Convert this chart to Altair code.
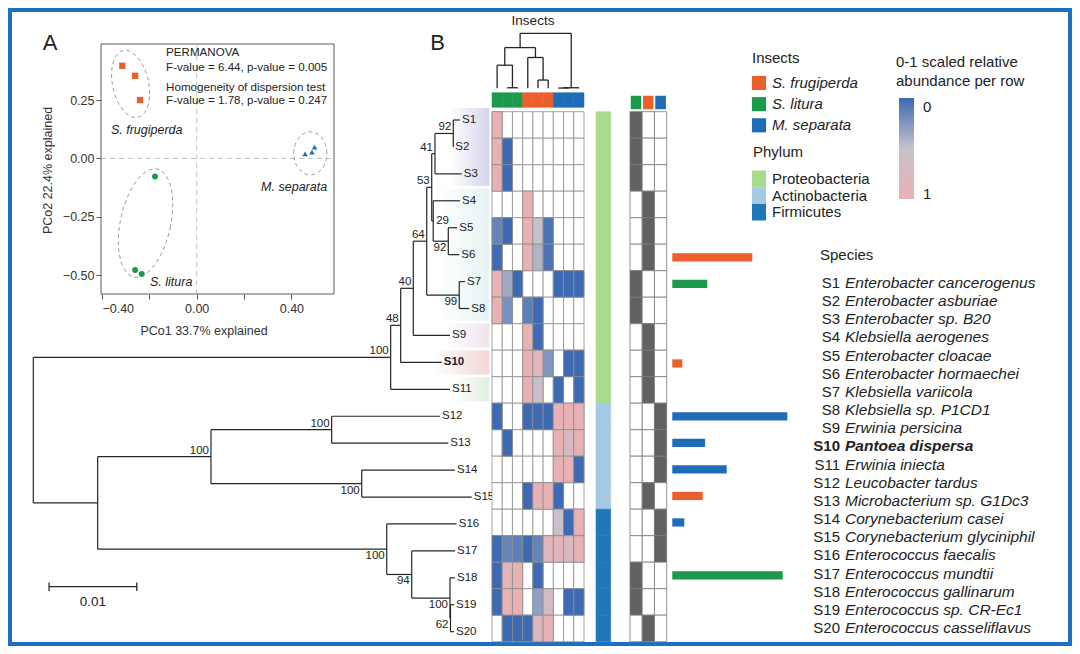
import altair as alt
import numpy as np
import pandas as pd

OFF = 8            # page margin
W, H = 1064, 638   # whole canvas (plot area, autosize none, padding 0)


def P(v):
    return v - OFF


def lin(domain, r0, r1):
    return alt.Scale(domain=domain, range=[P(r0), P(r1)], nice=False, zero=False)


def band(domain, r0, r1, pi=0.0, po=0.0):
    return alt.Scale(domain=domain, range=[P(r0), P(r1)], paddingInner=pi, paddingOuter=po)


FONT = "Liberation Sans"
INK = "#222222"
ORANGE, GREEN, BLUE = "#EB5F2C", "#1C9A4C", "#1F6DB6"
FRAME_BLUE = "#1D6FC2"

insects = ["S. frugiperda", "S. litura", "M. separata"]
insect_colors = [ORANGE, GREEN, BLUE]
INS_SCALE = alt.Scale(domain=insects, range=insect_colors)

# ---------------- Panel A : PCoA ----------------
pc_insect = ["S. frugiperda"] * 3 + ["S. litura"] * 3 + ["M. separata"] * 3
pc1 = [-0.314, -0.260, -0.239, -0.176, -0.260, -0.232, 0.458, 0.487, 0.498]
pc2 = [0.397, 0.354, 0.250, -0.077, -0.477, -0.494, 0.020, 0.027, 0.049]
pc_shapes = ["square", "circle", "triangle-up"]
pc_sizes = [40, 30, 70]

ell_insect = ["S. frugiperda", "S. litura", "M. separata"]
ell_cx = [-0.279, -0.216, 0.480]
ell_cy = [0.319, -0.276, 0.022]
ell_a = [0.076, 0.106, 0.070]
ell_b = [0.146, 0.236, 0.092]
ell_rot = [12.0, -12.0, 0.0]

PCX = [-0.404, 0.58]
PCY = [-0.58, 0.49]

stat_lines = ["PERMANOVA", "F-value = 6.44, p-value = 0.005",
              "Homogeneity of dispersion test", "F-value = 1.78, p-value = 0.247"]
stat_x = [-0.129, -0.129, -0.129, -0.129]
stat_y = [0.452, 0.388, 0.300, 0.246]

grp_label = ["S. frugiperda", "S. litura", "M. separata"]
grp_x = [-0.362, -0.197, 0.551]
grp_y = [0.121, -0.527, -0.124]

# ---------------- Panel B : tree ----------------
leaves = [f"S{i}" for i in range(1, 21)]
leaf_depth = [0.04865, 0.04789, 0.04885, 0.04865, 0.04835, 0.04857, 0.04922, 0.04972,
              0.04751, 0.04657, 0.04751, 0.04637, 0.04732, 0.04808, 0.04999, 0.04828,
              0.04808, 0.04808, 0.04797, 0.04797]
node_name = ["N92a", "N41", "N92b", "N29", "N53", "N99", "N64", "N40", "N48", "N100a",
             "N100d", "N100e", "N100c", "N62", "N100g", "N94", "N100f", "N100b", "root"]
node_c1 = ["S1", "N92a", "S5", "S4", "N41", "S7", "N53", "N64", "N40", "N48",
           "S12", "S14", "N100d", "S19", "S18", "S17", "S16", "N100c", "N100a"]
node_c2 = ["S2", "S3", "S6", "N92b", "N29", "S8", "N99", "S9", "S10", "S11",
           "S13", "S15", "N100e", "S20", "N62", "N100g", "N94", "N100f", "N100b"]
node_depth = [0.04789, 0.04580, 0.04732, 0.04560, 0.04543, 0.04857, 0.04486, 0.04333,
              0.04189, 0.04075, 0.03402, 0.03745, 0.02026, 0.04757, 0.04751, 0.04315,
              0.04030, 0.00734, 0.0]
node_support = ["92", "41", "92", "29", "53", "99", "64", "40", "48", "100",
                "100", "100", "100", "62", "100", "94", "100", "", ""]
node_side = ["above", "above", "below", "right", "above", "below", "above", "above", "above", "above",
             "above", "below", "above", "below", "below", "below", "below", "", ""]

hl_first = ["S1", "S4", "S9", "S10", "S11"]
hl_last = ["S3", "S8", "S9", "S10", "S11"]
hl_color = ["#d4d4eb", "#e6f3f3", "#efe4ee", "#f4d6d6", "#e0efe0"]
hl_start = [0.0475, 0.0462, 0.0470, 0.0455, 0.0478]

# column dendrogram (insect samples)
col_names = ["SL1", "SL2", "SL3", "SF1", "SF2", "SF3", "MS1", "MS2", "MS3"]
col_insect = ["S. litura"] * 3 + ["S. frugiperda"] * 3 + ["M. separata"] * 3
cnode_name = ["n1", "n2", "n3", "n4", "n5", "n6a", "n6", "top"]
cnode_c1 = ["SL2", "SL1", "SF2", "SF1", "n2", "MS1", "n6a", "n5"]
cnode_c2 = ["SL3", "n1", "SF3", "n3", "n4", "MS2", "MS3", "n6"]
cnode_h = [0.01, 0.42, 0.15, 0.56, 0.74, 0.005, 0.01, 1.0]

# heatmap values (0-1 scaled per row, None = absent), one list per sample column, rows S1..S20
N = None
SL1 = [1, 1, 1, N, 0.15, 0, 1, 1, N, N, N, 0, N, N, N, N, 0, 0, 0, N]
SL2 = [N, 0, 0, N, 0, N, 0.35, 0.22, N, N, N, N, 0, N, N, N, 0.15, 0.88, 1, 0]
SL3 = [N, N, N, N, N, N, 0, N, N, N, N, N, N, N, N, N, 0.12, 0.95, 1, 0]
SF1 = [N, N, N, 1, 1, 1, N, 0.12, 1, 1, 1, 0, N, N, 0, N, 0, N, N, 0]
SF2 = [N, N, N, N, 0.5, 0.42, N, 0, 0, 0.9, 0.58, 0, N, N, 1, N, 0.15, 0, 0.3, 0.8]
SF3 = [N, N, N, N, 0.05, 0.05, N, N, N, 0.25, N, 0, N, N, 1, N, 0.85, N, 0.7, 1]
MS1 = [N, N, N, N, N, N, 0, N, N, N, 0, 1, 1, 1, 0, 0.55, 0.9, N, N, N]
MS2 = [N, N, N, N, N, N, 0, N, N, 0, N, 1, 0.75, 1, N, 0, 0.75, N, 0, N]
MS3 = [N, N, N, N, N, N, 0, N, N, 0, 0, 1, 1, 0, N, 1, 1, N, 0, N]
hm_cols = [SL1, SL2, SL3, SF1, SF2, SF3, MS1, MS2, MS3]

phyla = ["Proteobacteria", "Actinobacteria", "Firmicutes"]
phylum_colors = ["#A8DB8D", "#A7CAE4", "#2178B8"]
PHY_SCALE = alt.Scale(domain=phyla, range=phylum_colors)
leaf_phylum = ["Proteobacteria"] * 11 + ["Actinobacteria"] * 4 + ["Firmicutes"] * 5

pres_cols = ["S. litura", "S. frugiperda", "M. separata"]
leaf_host = ["S. litura"] * 3 + ["S. frugiperda"] * 3 + ["S. litura"] * 2 + ["S. frugiperda"] * 3 + \
            ["M. separata"] * 3 + ["S. frugiperda"] + ["M. separata"] * 2 + ["S. litura"] * 2 + ["S. frugiperda"]

bar_leaf = ["S6", "S7", "S10", "S12", "S13", "S14", "S15", "S16", "S18"]
bar_val = [2.0, 0.875, 0.25, 2.875, 0.82, 1.36, 0.76, 0.30, 2.76]
bar_host = ["S. frugiperda", "S. litura", "S. frugiperda", "M. separata", "M. separata",
            "M. separata", "S. frugiperda", "M. separata", "S. litura"]

species = ["Enterobacter cancerogenus", "Enterobacter asburiae", "Enterobacter sp. B20",
           "Klebsiella aerogenes", "Enterobacter cloacae", "Enterobacter hormaechei",
           "Klebsiella variicola", "Klebsiella sp. P1CD1", "Erwinia persicina",
           "Pantoea dispersa", "Erwinia iniecta", "Leucobacter tardus",
           "Microbacterium sp. G1Dc3", "Corynebacterium casei", "Corynebacterium glyciniphilum",
           "Enterococcus faecalis", "Enterococcus mundtii", "Enterococcus gallinarum",
           "Enterococcus sp. CR-Ec1", "Enterococcus casseliflavus"]

HM_BLUE, HM_MID, HM_PINK = "#3D6AB3", "#C6C2CB", "#E8B1B4"

layers = []

# ======================= Panel A layers =======================
sx_pc = lin(PCX, 101, 334)
sy_pc = lin(PCY, 294, 44)

zl = pd.DataFrame({"x": [0.0, PCX[0]], "x2": [0.0, PCX[1]], "y": [PCY[0], 0.0], "y2": [PCY[1], 0.0]})
layers.append(alt.Chart(zl).mark_rule(color="#c4c4c4", strokeDash=[5, 4], strokeWidth=1).encode(
    x=alt.X("x:Q", scale=sx_pc, axis=None), x2="x2:Q",
    y=alt.Y("y:Q", scale=sy_pc, axis=None), y2="y2:Q"))

t = np.linspace(0, 2 * np.pi, 73)
erows = []
for ins, cx_, cy_, a, b, rot in zip(ell_insect, ell_cx, ell_cy, ell_a, ell_b, ell_rot):
    th = np.deg2rad(rot)
    ex = cx_ + a * np.cos(t) * np.cos(th) - b * np.sin(t) * np.sin(th)
    ey = cy_ + a * np.cos(t) * np.sin(th) + b * np.sin(t) * np.cos(th)
    for k in range(len(t)):
        erows.append({"insect": ins, "k": k, "x": float(ex[k]), "y": float(ey[k])})
layers.append(alt.Chart(pd.DataFrame(erows)).mark_line(color="#9a9a9a", strokeDash=[4, 3], strokeWidth=1).encode(
    x=alt.X("x:Q", scale=sx_pc, axis=None), y=alt.Y("y:Q", scale=sy_pc, axis=None),
    detail="insect:N", order="k:Q"))

pc_df = pd.DataFrame({"insect": pc_insect, "pc1": pc1, "pc2": pc2})
layers.append(alt.Chart(pc_df).mark_point(filled=True, opacity=1).encode(
    x=alt.X("pc1:Q", scale=sx_pc, axis=None), y=alt.Y("pc2:Q", scale=sy_pc, axis=None),
    color=alt.Color("insect:N", scale=INS_SCALE, legend=None),
    shape=alt.Shape("insect:N", scale=alt.Scale(domain=insects, range=pc_shapes), legend=None),
    size=alt.Size("insect:N", scale=alt.Scale(domain=insects, range=pc_sizes), legend=None)))

frame_df = pd.DataFrame({"x0": [PCX[0]], "x1": [PCX[1]], "y0": [PCY[0]], "y1": [PCY[1]]})
layers.append(alt.Chart(frame_df).mark_rect(fillOpacity=0, stroke="#5a5a5a", strokeWidth=1).encode(
    x=alt.X("x0:Q", scale=sx_pc, axis=alt.Axis(
        orient="bottom", offset=P(294) - H, values=[-0.4, -0.2, 0, 0.2, 0.4], format=".2f",
        domain=False, grid=False, tickSize=5, tickColor="#555555", labelFontSize=12.5,
        labelColor="#333333", labelPadding=3, title="PCo1 33.7% explained", titleFontSize=12.5,
        titleFontWeight="normal", titleColor="#333333", titleX=P(203.5), titleY=36,
        titleBaseline="middle", titleAlign="center")),
    x2="x1:Q",
    y=alt.Y("y0:Q", scale=sy_pc, axis=alt.Axis(
        orient="left", offset=-P(101), values=[-0.5, -0.25, 0, 0.25], format=".2f",
        domain=False, grid=False, tickSize=5, tickColor="#555555", labelFontSize=12.5,
        labelColor="#333333", labelPadding=2, title="PCo2 22.4% explained", titleFontSize=12.5,
        titleFontWeight="normal", titleColor="#333333", titleX=-54, titleY=P(170),
        titleBaseline="middle", titleAlign="center", titleAngle=-90)),
    y2="y1:Q"))

st_df = pd.DataFrame({"text": stat_lines, "x": stat_x, "y": stat_y})
layers.append(alt.Chart(st_df).mark_text(align="left", baseline="middle", fontSize=11.6, color=INK).encode(
    x=alt.X("x:Q", scale=sx_pc, axis=None), y=alt.Y("y:Q", scale=sy_pc, axis=None), text="text:N"))

gl_df = pd.DataFrame({"text": grp_label, "x": grp_x, "y": grp_y})
layers.append(alt.Chart(gl_df[gl_df.text != "M. separata"]).mark_text(
    align="left", baseline="middle", fontSize=12.5, fontStyle="italic", color=INK).encode(
    x=alt.X("x:Q", scale=sx_pc, axis=None), y=alt.Y("y:Q", scale=sy_pc, axis=None), text="text:N"))
layers.append(alt.Chart(gl_df[gl_df.text == "M. separata"]).mark_text(
    align="right", baseline="middle", fontSize=12.5, fontStyle="italic", color=INK).encode(
    x=alt.X("x:Q", scale=sx_pc, axis=None), y=alt.Y("y:Q", scale=sy_pc, axis=None), text="text:N"))

# ======================= Tree =======================
TMAX = 0.052
sx_tr = lin([0, TMAX], 33.3, 33.3 + TMAX * 8770)
sy_tr = lin([1, 20], 120, 631.7)

ypos = {l: i + 1 for i, l in enumerate(leaves)}
dep = dict(zip(leaves, leaf_depth))
for n, a, b, d in zip(node_name, node_c1, node_c2, node_depth):
    ypos[n] = (ypos[a] + ypos[b]) / 2
    dep[n] = d

for first, last, colr, start in zip(hl_first, hl_last, hl_color, hl_start):
    hdf = pd.DataFrame({"x": [start], "x2": [TMAX], "y": [ypos[first] - 0.45], "y2": [ypos[last] + 0.45]})
    grad = alt.LinearGradient(gradient="linear", x1=0, x2=1, y1=0, y2=0,
                              stops=[alt.GradientStop(color="#ffffff", offset=0),
                                     alt.GradientStop(color=colr, offset=1)])
    layers.append(alt.Chart(hdf).mark_rect(fill=grad).encode(
        x=alt.X("x:Q", scale=sx_tr, axis=None), x2="x2:Q",
        y=alt.Y("y:Q", scale=sy_tr, axis=None), y2="y2:Q"))

segs = []
for n, a, b in zip(node_name, node_c1, node_c2):
    segs.append({"x": dep[n], "x2": dep[n], "y": ypos[a], "y2": ypos[b]})
    for c in (a, b):
        segs.append({"x": dep[n], "x2": dep[c], "y": ypos[c], "y2": ypos[c]})
layers.append(alt.Chart(pd.DataFrame(segs)).mark_rule(color="#262626", strokeWidth=1.2).encode(
    x=alt.X("x:Q", scale=sx_tr, axis=None), x2="x2:Q",
    y=alt.Y("y:Q", scale=sy_tr, axis=None), y2="y2:Q"))

leaf_df = pd.DataFrame({"leaf": leaves, "d": leaf_depth, "y": [ypos[l] for l in leaves]})
layers.append(alt.Chart(leaf_df[leaf_df.leaf != "S10"]).mark_text(
    align="left", baseline="middle", dx=2, fontSize=11.5, color=INK).encode(
    x=alt.X("d:Q", scale=sx_tr, axis=None), y=alt.Y("y:Q", scale=sy_tr, axis=None), text="leaf:N"))
layers.append(alt.Chart(leaf_df[leaf_df.leaf == "S10"]).mark_text(
    align="left", baseline="middle", dx=2, fontSize=11.5, fontWeight="bold", color=INK).encode(
    x=alt.X("d:Q", scale=sx_tr, axis=None), y=alt.Y("y:Q", scale=sy_tr, axis=None), text="leaf:N"))

sup_df = pd.DataFrame({"s": node_support, "side": node_side, "d": node_depth,
                       "y": [ypos[n] for n in node_name]})
for side, kw in [("above", dict(align="right", baseline="bottom", dx=-2, dy=-1)),
                 ("below", dict(align="right", baseline="top", dx=-2, dy=1)),
                 ("right", dict(align="left", baseline="middle", dx=3))]:
    layers.append(alt.Chart(sup_df[sup_df.side == side]).mark_text(fontSize=11.5, color=INK, **kw).encode(
        x=alt.X("d:Q", scale=sx_tr, axis=None), y=alt.Y("y:Q", scale=sy_tr, axis=None), text="s:N"))

# scale bar 0.01
sb = pd.DataFrame({"x": [0.0018], "x2": [0.0118], "lab": ["0.01"], "mid": [0.0068]})
layers.append(alt.Chart(sb).mark_rule(color="#262626", strokeWidth=1.3).encode(
    x=alt.X("x:Q", scale=sx_tr, axis=None), x2="x2:Q", y=alt.value(P(586.7))))
sbt = pd.DataFrame({"x": [0.0018, 0.0118]})
layers.append(alt.Chart(sbt).mark_rule(color="#262626", strokeWidth=1.3).encode(
    x=alt.X("x:Q", scale=sx_tr, axis=None), y=alt.value(P(582.5)), y2=alt.value(P(591))))
layers.append(alt.Chart(sb).mark_text(fontSize=13.5, color=INK, baseline="middle").encode(
    x=alt.X("mid:Q", scale=sx_tr, axis=None), y=alt.value(P(602)), text="lab:N"))

# ======================= Column dendrogram =======================
sx_cd = lin([0, 9], 492, 584)
sy_cd = lin([0, 1], 88.3, 33.3)
cxp = {c: i + 0.5 for i, c in enumerate(col_names)}
chh = {c: 0.0 for c in col_names}
for n, a, b, h in zip(cnode_name, cnode_c1, cnode_c2, cnode_h):
    cxp[n] = (cxp[a] + cxp[b]) / 2
    chh[n] = h
csegs = []
for n, a, b, h in zip(cnode_name, cnode_c1, cnode_c2, cnode_h):
    csegs.append({"x": cxp[a], "x2": cxp[b], "y": h, "y2": h})
    for c in (a, b):
        csegs.append({"x": cxp[c], "x2": cxp[c], "y": chh[c], "y2": h})
layers.append(alt.Chart(pd.DataFrame(csegs)).mark_rule(color="#262626", strokeWidth=1.3).encode(
    x=alt.X("x:Q", scale=sx_cd, axis=None), x2="x2:Q",
    y=alt.Y("y:Q", scale=sy_cd, axis=None), y2="y2:Q"))

# ======================= Heatmap =======================
sx_hm = band(col_names, 492, 584)
sy_hm = band(leaves, 111.7, 641.7)
cells = []
for cname, vals in zip(col_names, hm_cols):
    for leaf, v in zip(leaves, vals):
        cells.append({"col": cname, "row": leaf, "value": v})
cells = pd.DataFrame(cells)
layers.append(alt.Chart(cells[["col", "row"]]).mark_rect(fill="white", stroke="#8e8e8e", strokeWidth=0.8).encode(
    x=alt.X("col:N", scale=sx_hm, axis=None), y=alt.Y("row:N", scale=sy_hm, axis=None)))
filled = cells.dropna().copy()
filled["value"] = filled["value"].astype(float)
layers.append(alt.Chart(filled).mark_rect(stroke="#8e8e8e", strokeWidth=0.8).encode(
    x=alt.X("col:N", scale=sx_hm, axis=None), y=alt.Y("row:N", scale=sy_hm, axis=None),
    color=alt.Color("value:Q", legend=None,
                    scale=alt.Scale(domain=[0, 0.5, 1], range=[HM_BLUE, HM_MID, HM_PINK], interpolate="rgb"))))

# insect strip above heatmap
strip = pd.DataFrame({"col": col_names, "g": ["Insects"] * 9, "insect": col_insect})
layers.append(alt.Chart(strip).mark_rect(strokeWidth=0.5).encode(
    x=alt.X("col:N", scale=sx_hm, axis=None),
    y=alt.Y("g:N", scale=band(["Insects"], 92.7, 107.3), axis=None),
    color=alt.Color("insect:N", scale=INS_SCALE, legend=None),
    stroke=alt.Stroke("insect:N", scale=INS_SCALE, legend=None)))

# phylum strip
ph_df = pd.DataFrame({"row": leaves, "g": ["Phylum"] * 20, "phylum": leaf_phylum})
layers.append(alt.Chart(ph_df).mark_rect(strokeWidth=0.6).encode(
    x=alt.X("g:N", scale=band(["Phylum"], 596, 610.7), axis=None),
    y=alt.Y("row:N", scale=sy_hm, axis=None),
    color=alt.Color("phylum:N", scale=PHY_SCALE, legend=None),
    stroke=alt.Stroke("phylum:N", scale=PHY_SCALE, legend=None)))

# presence matrix
sx_pr = band(pres_cols, 630, 666.7)
pres = []
for leaf, host in zip(leaves, leaf_host):
    for pc in pres_cols:
        pres.append({"row": leaf, "col": pc, "present": "yes" if pc == host else "no"})
layers.append(alt.Chart(pd.DataFrame(pres)).mark_rect(stroke="#7a7a7a", strokeWidth=0.8).encode(
    x=alt.X("col:N", scale=sx_pr, axis=None), y=alt.Y("row:N", scale=sy_hm, axis=None),
    color=alt.Color("present:N", scale=alt.Scale(domain=["yes", "no"], range=["#616161", "#ffffff"]),
                    legend=None)))
top_sq = pd.DataFrame({"col": pres_cols, "g": ["top"] * 3})
layers.append(alt.Chart(top_sq).mark_rect(stroke="white", strokeWidth=1.6).encode(
    x=alt.X("col:N", scale=sx_pr, axis=None), y=alt.Y("g:N", scale=band(["top"], 95, 110), axis=None),
    color=alt.Color("col:N", scale=INS_SCALE, legend=None)))

# bars
bar_df = pd.DataFrame({"row": bar_leaf, "val": bar_val, "host": bar_host})
layers.append(alt.Chart(bar_df).mark_bar().encode(
    x=alt.X("val:Q", scale=lin([0, 3], 672.3, 792.3), axis=None),
    y=alt.Y("row:N", scale=band(leaves, 111.7, 641.7, pi=0.69, po=0.345), axis=None),
    color=alt.Color("host:N", scale=INS_SCALE, legend=None)))

# species list
sy_sp = alt.Scale(type="point", domain=leaves, range=[P(283), P(628)], padding=0)
sp_df = pd.DataFrame({"row": leaves, "name": species})
for bold in (False, True):
    sub = sp_df[(sp_df.row == "S10") == bold]
    fw = "bold" if bold else "normal"
    layers.append(alt.Chart(sub).mark_text(align="right", baseline="middle", fontSize=15,
                                           fontWeight=fw, color=INK).encode(
        x=alt.value(P(840)), y=alt.Y("row:N", scale=sy_sp, axis=None), text="row:N"))
    layers.append(alt.Chart(sub).mark_text(align="left", baseline="middle", fontSize=15.5, fontStyle="italic",
                                           fontWeight=fw, color=INK, limit=198, ellipsis="\u200b").encode(
        x=alt.value(P(845)), y=alt.Y("row:N", scale=sy_sp, axis=None), text="name:N"))

# insect legend
leg_df = pd.DataFrame({"insect": insects})
sy_leg = alt.Scale(type="point", domain=insects, range=[P(83), P(125.3)], padding=0)
layers.append(alt.Chart(leg_df).mark_square(size=200, filled=True, opacity=1).encode(
    x=alt.value(P(759)), y=alt.Y("insect:N", scale=sy_leg, axis=None),
    color=alt.Color("insect:N", scale=INS_SCALE, legend=None)))
layers.append(alt.Chart(leg_df).mark_text(align="left", baseline="middle", fontSize=15,
                                          fontStyle="italic", color=INK).encode(
    x=alt.value(P(772)), y=alt.Y("insect:N", scale=sy_leg, axis=None), text="insect:N"))

# phylum legend
pl_df = pd.DataFrame({"phylum": phyla})
sy_pl = band(phyla, 170.5, 220.5)
layers.append(alt.Chart(pl_df).mark_rect().encode(
    x=alt.value(P(752)), x2=alt.value(P(766)), y=alt.Y("phylum:N", scale=sy_pl, axis=None),
    color=alt.Color("phylum:N", scale=PHY_SCALE, legend=None)))
layers.append(alt.Chart(pl_df).mark_text(align="left", baseline="middle", fontSize=15, color=INK).encode(
    x=alt.value(P(772)), y=alt.Y("phylum:N", scale=sy_pl, axis=None, bandPosition=0.5), text="phylum:N"))

# color bar
cb_grad = alt.LinearGradient(gradient="linear", x1=0, x2=0, y1=0, y2=1,
                             stops=[alt.GradientStop(color=HM_BLUE, offset=0),
                                    alt.GradientStop(color=HM_MID, offset=0.5),
                                    alt.GradientStop(color=HM_PINK, offset=1)])
layers.append(alt.Chart(pd.DataFrame({"v": [0]})).mark_rect(fill=cb_grad).encode(
    x=alt.value(P(899)), x2=alt.value(P(914)), y=alt.value(P(98)), y2=alt.value(P(199))))
cb_lab = pd.DataFrame({"v": [0, 1], "t": ["0", "1"]})
layers.append(alt.Chart(cb_lab).mark_text(align="left", baseline="middle", fontSize=15, color=INK).encode(
    x=alt.value(P(923)), y=alt.Y("v:Q", scale=lin([0, 1], 106.7, 194), axis=None), text="t:N"))

# titles / headings (positions given in page pixels)
PAGE_X = lin([0, 1080], 0, 1080)
PAGE_Y = lin([0, 654], 0, 654)


def label_layer(texts, xs, ys, **mark):
    df = pd.DataFrame({"text": texts, "x": xs, "y": ys})
    return alt.Chart(df).mark_text(color=INK, **mark).encode(
        x=alt.X("x:Q", scale=PAGE_X, axis=None), y=alt.Y("y:Q", scale=PAGE_Y, axis=None), text="text:N")


layers.append(label_layer(["A", "B"], [50, 437.5], [43, 43], fontSize=22, align="center", baseline="middle"))
layers.append(label_layer(["Insects"], [533], [21], fontSize=13.5, align="center", baseline="middle"))
layers.append(label_layer(["Insects", "Phylum", "0-1 scaled relative", "abundance per row", "Species"],
                          [752, 753, 896, 896, 820], [58, 152, 62, 81, 255],
                          fontSize=15, align="left", baseline="middle"))

chart = alt.layer(*layers).resolve_scale(
    x="independent", y="independent", color="independent", stroke="independent",
    shape="independent", size="independent"
).properties(
    width=W, height=H, padding=0, autosize=alt.AutoSizeParams(type="none")
).configure(font=FONT).configure_view(stroke=FRAME_BLUE, strokeWidth=8)

chart.save("out.html", embed_options={"renderer": "svg", "actions": False})
